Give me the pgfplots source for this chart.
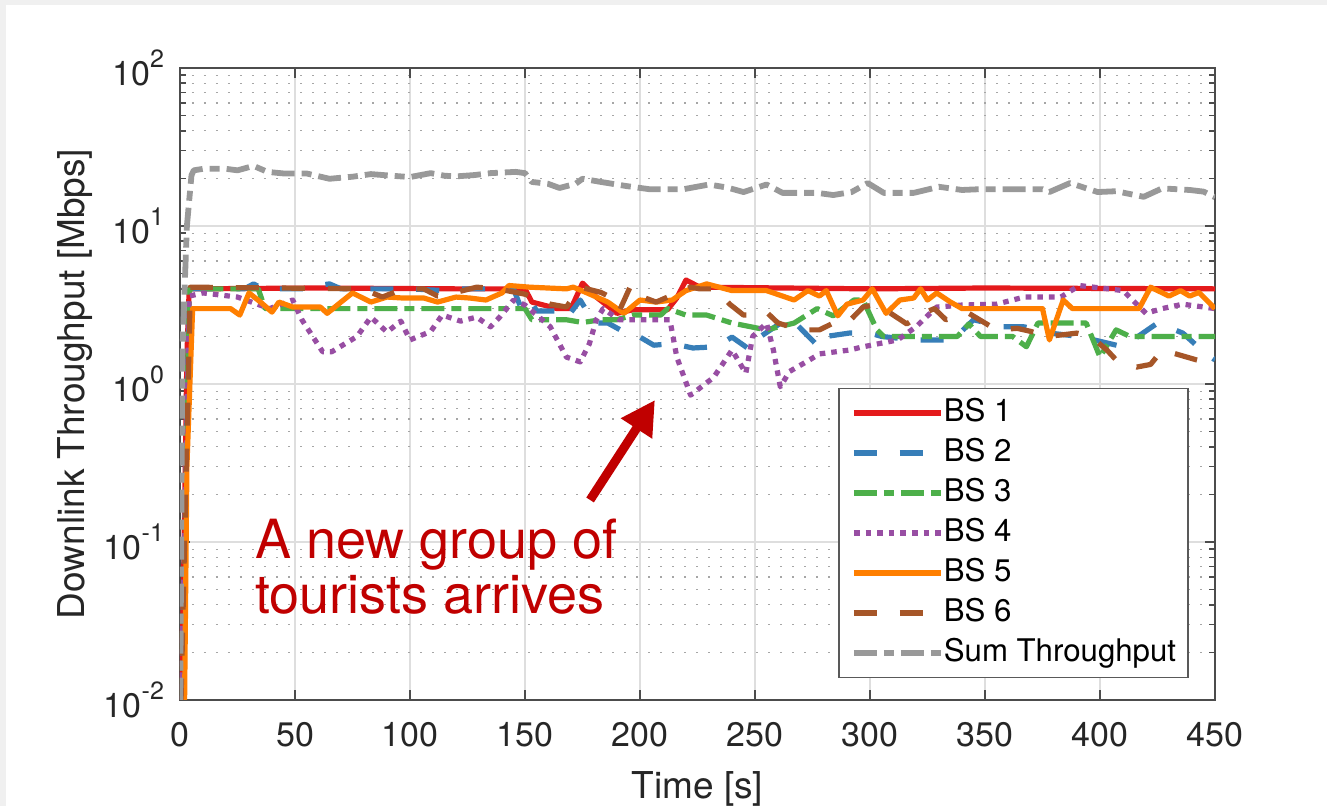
\documentclass[border=0pt]{standalone}
\usepackage{pgfplots}
\pgfplotsset{compat=1.18}
\usepackage{fontspec}
\setmainfont{TeX Gyre Heros}
\usetikzlibrary{arrows.meta}
\definecolor{cA}{HTML}{E41A1C}
\definecolor{cB}{HTML}{377EB8}
\definecolor{cC}{HTML}{4DAF4A}
\definecolor{cD}{HTML}{984EA3}
\definecolor{cE}{HTML}{FF7F00}
\definecolor{cF}{HTML}{A65628}
\definecolor{cG}{HTML}{999999}
\definecolor{annot}{HTML}{C00000}
\definecolor{txt}{HTML}{262626}
\newcommand\sx[1]{\raisebox{9pt}{\fontsize{12.5}{14}\selectfont #1}}
\begin{document}
\begin{tikzpicture}
\fill[black!6] (-90pt,-53pt) rectangle (573.5pt,350pt);
\fill[white] (-87pt,-53pt) rectangle (573.5pt,347.5pt);
\useasboundingbox (-90pt,-53pt) rectangle (573.5pt,350pt);
\begin{axis}[
  at={(0pt,0pt)}, anchor=south west,
  scale only axis, width=517.5pt, height=316pt,
  xmin=0, xmax=450, ymin=0.01, ymax=100, ymode=log,
  xtick={0,50,...,450},
  ytick={0.01,0.1,1,10,100},
  yticklabels={10\sx{-2},10\sx{-1},10\sx{0},10\sx{1},10\sx{2}},
  minor ytick={0.02,0.03,0.04,0.05,0.06,0.07,0.08,0.09,0.2,0.3,0.4,0.5,0.6,0.7,0.8,0.9,2,3,4,5,6,7,8,9,20,30,40,50,60,70,80,90},
  /pgf/number format/assume math mode=true,
  tick align=inside,
  major tick length=5pt, minor tick length=3pt,
  grid=both,
  major grid style={black!13, line width=0.8pt},
  minor grid style={black!35, line width=0.6pt, dash pattern=on 1.2pt off 4.8pt},
  axis line style={black!70, line width=0.8pt},
  every tick/.style={black!70, line width=0.8pt},
  xlabel={Time [s]}, ylabel={Downlink Throughput [Mbps]},
  label style={font=\fontsize{18.5}{22}\selectfont, text=txt},
  xlabel style={yshift=-5.5pt},
  ylabel style={yshift=-1pt},
  tick label style={font=\fontsize{17}{20}\selectfont, text=txt},
  xticklabel style={yshift=-7.5pt},
  yticklabel style={xshift=-4.5pt},
  every axis plot/.append style={line width=2.6pt, line join=round},
  legend image code/.code={\draw[#1] (0pt,0pt) -- (43.5pt,0pt);},
  legend cell align=left,
  legend style={at={(0.636,0.494)}, anchor=north west, draw=black!65, line width=0.8pt, fill=white,
    font=\fontsize{15.6}{17}\selectfont, inner xsep=6pt, inner ysep=5pt,
    nodes={inner sep=0pt, text height=11.5pt, text depth=3pt},
    row sep=5.5pt,
    /tikz/every even column/.append style={column sep=7pt}},
]
\addplot[cA] coordinates {(0,0.005) (1.5,0.05) (3,1.5) (4,4) (60,4.05) (120,4.0) (150,4) (153,3.3) (164,3.0) (170,3.0) (175,4.35) (181,3.55) (190,2.8) (197,2.95) (212,2.95) (216,3.5) (220,4.55) (226,4.1) (300,4.0) (350,4.05) (450,4.0)};
\addlegendentry{BS 1}
\addplot[cB, dash pattern=on 11.5pt off 11.5pt] coordinates {(0,0.005) (2,0.1) (4,4) (28,4) (32,4.3) (36,4.0) (55,4) (60,4.2) (65,4.3) (70,4) (100,4) (115,3.9) (120,4) (145,4) (148,3.1) (152,3.5) (155,2.9) (164,2.9) (168,2.6) (174,3.4) (180,2.43) (186,2.43) (194,2.1) (197,2.1) (206,1.76) (214,1.8) (223,1.69) (233,1.72) (240,1.98) (248,1.64) (252,1.98) (265,2.65) (278,1.7) (281,2.0) (291,2.1) (300,2.1) (305,2.0) (319,1.9) (336,1.9) (345,2.55) (358,2.3) (367,2.3) (378,2.1) (391,2.0) (410,1.72) (425,2.43) (436,2.1) (445,1.6) (450,1.42)};
\addlegendentry{BS 2}
\addplot[cC, dash pattern=on 11.5pt off 3.5pt on 5pt off 3.5pt] coordinates {(0,0.005) (2,0.1) (4,4) (34,4) (37,3.0) (150,3.0) (153,2.55) (161,2.55) (168,2.55) (175,2.45) (183,2.55) (190,2.55) (197,2.73) (209,2.73) (212,3.0) (220,2.73) (229,2.73) (240,2.43) (255,2.2) (267,2.43) (277,3.0) (284,2.7) (293,3.4) (297,3.4) (303,2.2) (306,2.0) (326,2.0) (338,2.0) (343,2.4) (348,2.0) (362,2.0) (368,1.72) (373,2.43) (384,2.43) (394,2.43) (400,1.48) (407,2.2) (413,2.0) (450,2.0)};
\addlegendentry{BS 3}
\addplot[cD, dash pattern=on 2.8pt off 3pt] coordinates {(0,0.005) (2,0.1) (4,3.6) (10,3.77) (25,3.55) (39,3.0) (49,3.4) (53,2.55) (62,1.6) (66,1.6) (77,2.0) (83,2.65) (90,2.13) (96,2.5) (100,1.9) (109,2.15) (114,2.73) (122,2.5) (129,2.65) (135,2.3) (139,2.65) (145,3.4) (150,3.16) (153,2.9) (161,2.3) (168,1.48) (174,1.38) (178,1.8) (181,2.55) (184,3.0) (191,2.55) (209,2.55) (213,2.55) (216,1.48) (222,0.85) (232,1.1) (240,1.64) (246,1.17) (249,2.0) (255,2.43) (258,1.64) (261,0.96) (265,1.2) (273,1.4) (278,1.55) (291,1.64) (297,1.72) (312,1.9) (320,2.3) (329,3.07) (340,3.16) (355,3.2) (367,3.55) (383,3.55) (391,4.2) (410,3.9) (420,2.8) (427,3.0) (436,3.2) (450,3.0)};
\addlegendentry{BS 4}
\addplot[cE] coordinates {(0,0.005) (2,0.01) (3,0.3) (5.5,3.0) (22,3.0) (26,2.73) (30,3.77) (35,3.3) (40,2.85) (43,3.3) (49,3.07) (61,3.07) (64,2.8) (70,3.3) (75,3.77) (83,3.3) (90,3.55) (97,3.5) (106,3.5) (112,3.3) (120,3.55) (126,3.5) (133,3.4) (140,3.77) (143,4.2) (152,4.1) (168,4.0) (171,4.1) (177,3.77) (186,3.3) (193,2.8) (200,3.4) (207,3.3) (214,3.4) (220,3.9) (229,4.3) (240,3.9) (255,3.9) (267,3.4) (273,3.9) (278,3.6) (281,3.9) (286,2.7) (290,3.2) (297,3.4) (301,4.0) (307,2.8) (313,3.4) (319,3.5) (322,4.0) (325,3.4) (329,3.77) (335,3.3) (340,3.0) (375,3.0) (378,1.9) (384,3.4) (388,3.0) (417,3.0) (422,4.1) (430,3.6) (435,3.9) (439,3.6) (443,3.8) (450,3.0)};
\addlegendentry{BS 5}
\addplot[cF, dash pattern=on 11.5pt off 11.5pt] coordinates {(0,0.005) (2,0.1) (4.5,4.1) (80,4.0) (83,3.8) (88,3.55) (97,4.0) (106,4.0) (112,3.6) (120,3.8) (129,4.1) (138,4.0) (146,3.8) (150,3.7) (153,3.55) (161,3.2) (168,3.07) (174,4.1) (183,3.8) (187,3.55) (191,2.9) (196,4.2) (200,3.6) (207,3.3) (213,3.6) (222,4.1) (226,4.0) (233,4.0) (239,3.2) (245,2.73) (251,2.73) (255,2.85) (260,2.43) (270,2.2) (278,2.2) (287,2.55) (291,2.5) (297,3.07) (303,3.2) (309,2.8) (316,2.4) (323,2.8) (328,3.0) (333,2.55) (343,2.8) (355,2.2) (364,2.25) (370,2.15) (377,2.0) (384,2.05) (390,2.1) (396,2.0) (403,1.64) (407,1.42) (416,1.28) (422,1.33) (427,1.64) (433,1.55) (442,1.42) (450,1.33)};
\addlegendentry{BS 6}
\addplot[cG, line width=2.9pt, dash pattern=on 11.5pt off 3.5pt on 5pt off 3.5pt] coordinates {(0,0.005) (1,1.5) (2,4) (3,10) (5,21) (6,22.5) (10,23) (20,23) (25,22.5) (32,24) (38,22) (45,21.5) (55,21.5) (65,19.9) (75,20.5) (83,21.3) (92,20.8) (100,20.4) (109,21.6) (115,20.8) (120,20.6) (128,21) (135,21.6) (146,22) (150,21.6) (153,19) (160,18.5) (165,17.4) (172,18.5) (175,19.9) (183,19) (194,17.9) (204,17.1) (219,17.1) (230,18.3) (238,17.5) (245,16.4) (255,18.3) (262,16.2) (277,16.2) (284,15.7) (292,16.4) (299,18.7) (306,16.2) (319,16.2) (330,17.7) (340,16.9) (348,17.1) (375,17.1) (378,16.4) (387,18.7) (399,16.4) (407,16.6) (419,15.3) (427,17.3) (439,16.9) (445,16.5) (450,15.2)};
\addlegendentry{Sum Throughput}
\node[anchor=base west, inner sep=0pt, text=annot, font=\fontsize{27}{31}\selectfont] at (axis cs:32.6,0.0792) {A new group of};
\node[anchor=base west, inner sep=0pt, text=annot, font=\fontsize{27}{31}\selectfont] at (axis cs:32.6,0.0355) {tourists arrives};
\draw[annot, line width=4.5pt, -{Triangle[length=17pt,width=17.5pt]}] (axis cs:178.3,0.1845) -- (axis cs:206.5,0.792);
\end{axis}
\end{tikzpicture}
\end{document}
